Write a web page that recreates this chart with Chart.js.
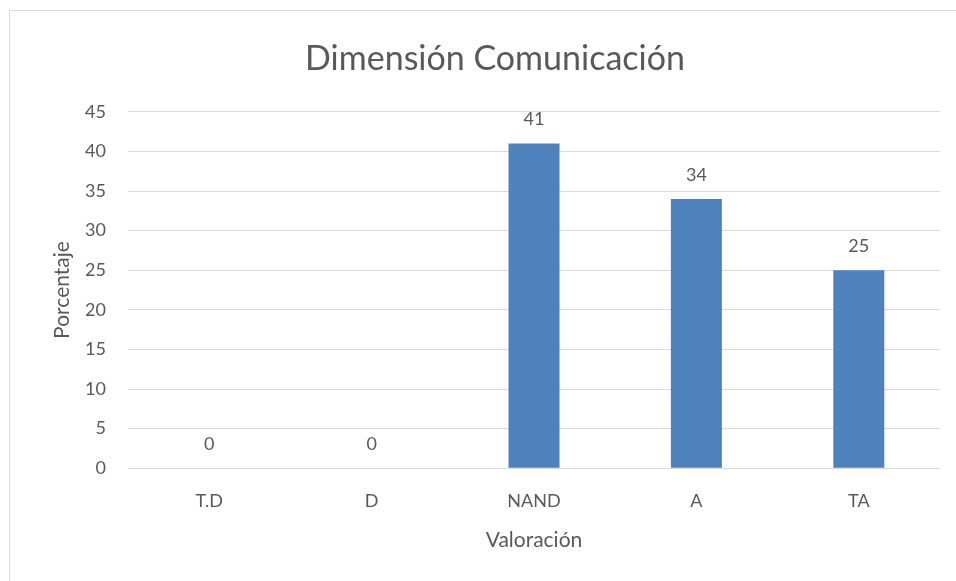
<!DOCTYPE html>
<html><head><meta charset="utf-8">
<script src="https://cdn.jsdelivr.net/npm/chart.js@4"></script>
<style>
html,body{margin:0;padding:0;background:#fff;}
#wrap{position:relative;width:956px;height:581px;}
#frame{position:absolute;left:9px;top:10px;width:960px;height:600px;border:1px solid #d9d9d9;box-sizing:border-box;}
canvas{position:absolute;left:0;top:0;}
</style></head>
<body><div id="wrap"><div id="frame"></div><canvas id="c" width="956" height="581"></canvas></div>
<script>
const categories = ["T.D", "D", "NAND", "A", "TA"];
const values = [0, 0, 41, 34, 25];
const yTicks = [0, 5, 10, 15, 20, 25, 30, 35, 40, 45];
const titleText = "Dimensión Comunicación";
const xTitle = "Valoración";
const yTitle = "Porcentaje";

const FONT = "Lato, 'Open Sans', sans-serif";
const GREY = "#595959";

const labelPlugin = {
  id: 'valueLabels',
  afterDatasetsDraw(chart) {
    const ctx = chart.ctx;
    const meta = chart.getDatasetMeta(0);
    ctx.save();
    ctx.font = "18px " + FONT;
    ctx.fillStyle = GREY;
    ctx.textAlign = "center";
    ctx.textBaseline = "middle";
    meta.data.forEach((bar, i) => {
      ctx.fillText(String(values[i]), bar.x, bar.y - 24);
    });
    ctx.restore();
  }
};

new Chart(document.getElementById('c'), {
  type: 'bar',
  data: {
    labels: categories,
    datasets: [{
      data: values,
      backgroundColor: "#4f81bd",
      categoryPercentage: 1.0,
      barPercentage: 0.314
    }]
  },
  options: {
    responsive: false,
    animation: false,
    devicePixelRatio: 1,
    layout: { padding: { left: 50, right: 16, top: 0, bottom: 28 } },
    plugins: {
      legend: { display: false },
      tooltip: { enabled: false },
      title: {
        display: true,
        text: titleText,
        color: GREY,
        font: { family: FONT, size: 34, weight: 'normal' },
        padding: { top: 39, bottom: 32 }
      }
    },
    scales: {
      x: {
        grid: { display: false, drawTicks: false },
        border: { display: false },
        ticks: { color: GREY, font: { family: FONT, size: 18 }, padding: 22 },
        title: { display: true, text: xTitle, color: GREY, font: { family: FONT, size: 21 }, padding: { top: -6, bottom: 0 } }
      },
      y: {
        min: 0, max: 45,
        afterBuildTicks(scale) { scale.ticks = yTicks.map(v => ({ value: v })); },
        afterFit(scale) { scale.width = 78; },
        grid: { color: "#d9d9d9", lineWidth: 1, drawTicks: false },
        border: { display: false },
        ticks: { color: GREY, font: { family: FONT, size: 18 }, padding: 22 },
        title: { display: true, text: yTitle, color: GREY, font: { family: FONT, size: 21 }, padding: { top: 0, bottom: 0 } }
      }
    }
  },
  plugins: [labelPlugin]
});
</script></body></html>
